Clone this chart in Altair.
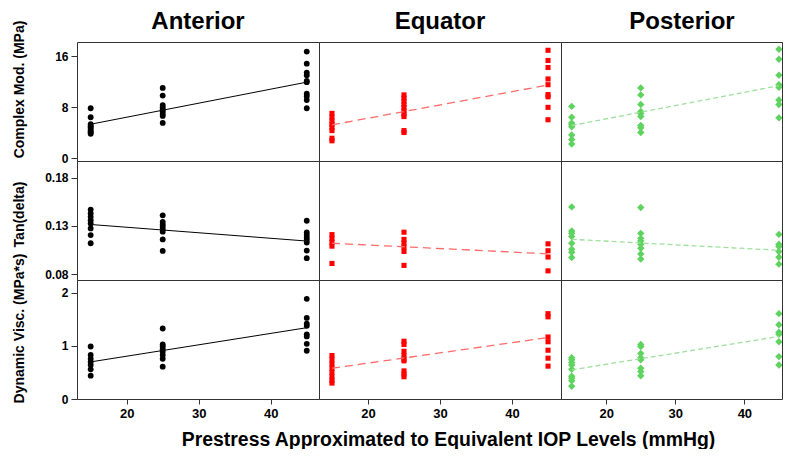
import altair as alt
import pandas as pd

PRESSURES = [15, 25, 45]
REGIONS = ["Anterior", "Equator", "Posterior"]
MEASURES = ["Complex Mod. (MPa)", "Tan(delta)", "Dynamic Visc. (MPa*s)"]
X_TITLE = "Prestress Approximated to Equivalent IOP Levels (mmHg)"
X_TICKS = [20, 30, 40]

# ---- Complex modulus (MPa), per region, keyed by prestress level ----
ANT_MOD = {15: [7.8, 6.4, 5.3, 5.0, 4.8, 4.5, 4.2, 4.0, 3.8],
           25: [11.0, 9.8, 8.3, 7.95, 7.6, 7.3, 6.9, 6.6, 5.5],
           45: [16.7, 14.8, 13.4, 13.0, 12.1, 11.9, 10.1, 9.7, 9.1, 7.8]}
EQU_MOD = {15: [7.0, 6.4, 5.8, 5.3, 4.8, 4.3, 3.1, 2.7],
           25: [9.9, 9.4, 8.9, 8.4, 7.9, 7.4, 6.9, 6.5, 4.3, 4.0],
           45: [16.9, 15.3, 14.2, 12.4, 11.5, 9.95, 9.6, 7.95, 6.0]}
POS_MOD = {15: [8.1, 6.4, 5.5, 5.2, 4.9, 3.6, 2.9, 2.2],
           25: [11.0, 9.9, 8.4, 7.3, 7.0, 6.5, 5.1, 4.75, 4.0],
           45: [17.05, 15.5, 13.0, 11.5, 11.1, 9.1, 8.4, 6.3]}

# ---- Tan(delta) ----
ANT_TAN = {15: [0.147, 0.143, 0.1395, 0.136, 0.1326, 0.1274, 0.1205, 0.112],
           25: [0.141, 0.1343, 0.1315, 0.1292, 0.1267, 0.124, 0.116, 0.104],
           45: [0.1354, 0.1233, 0.1205, 0.1178, 0.1154, 0.1127, 0.1044, 0.0965]}
EQU_TAN = {15: [0.121, 0.117, 0.113, 0.109, 0.091],
           25: [0.1235, 0.116, 0.112, 0.108, 0.1035, 0.089],
           45: [0.1114, 0.1042, 0.0977, 0.0833]}
POS_TAN = {15: [0.1498, 0.1247, 0.1223, 0.1189, 0.112, 0.1058, 0.1027, 0.0972],
           25: [0.1491, 0.1223, 0.1171, 0.1143, 0.1109, 0.1068, 0.1009, 0.0955],
           45: [0.1212, 0.1109, 0.1085, 0.1034, 0.0975, 0.0903]}

# ---- Dynamic viscosity (MPa*s) ----
ANT_VIS = {15: [0.99, 0.83, 0.76, 0.70, 0.64, 0.56, 0.44],
           25: [1.33, 1.03, 0.99, 0.94, 0.89, 0.83, 0.76, 0.61],
           45: [1.89, 1.53, 1.42, 1.38, 1.22, 1.18, 1.04, 0.91]}
EQU_VIS = {15: [0.82, 0.74, 0.66, 0.58, 0.50, 0.42, 0.35, 0.30],
           25: [1.09, 1.03, 0.90, 0.82, 0.75, 0.72, 0.53, 0.47, 0.42],
           45: [1.61, 1.55, 1.17, 1.08, 0.92, 0.77, 0.62]}
POS_VIS = {15: [0.78, 0.74, 0.69, 0.64, 0.56, 0.43, 0.39, 0.345, 0.24],
           25: [1.03, 0.99, 0.86, 0.78, 0.74, 0.58, 0.52, 0.44],
           45: [1.61, 1.40, 1.26, 1.22, 1.08, 0.80, 0.64]}

# ---- fitted trend lines: value at 15 and at 45 mmHg ----
FIT_MOD = {"Anterior": [5.3, 11.9], "Equator": [5.2, 11.45], "Posterior": [5.1, 11.35]}
FIT_TAN = {"Anterior": [0.1315, 0.1143], "Equator": [0.112, 0.101], "Posterior": [0.1161, 0.1047]}
FIT_VIS = {"Anterior": [0.70, 1.345], "Equator": [0.58, 1.16], "Posterior": [0.55, 1.18]}
FIT_X = [15, 45]

DATA = [[ANT_MOD, EQU_MOD, POS_MOD], [ANT_TAN, EQU_TAN, POS_TAN], [ANT_VIS, EQU_VIS, POS_VIS]]
FITS = [FIT_MOD, FIT_TAN, FIT_VIS]

# ---- styling ----
FONT = "Liberation Sans"
POINT_STYLE = {
    "Anterior": dict(shape="circle", size=34, color="#000000"),
    "Equator": dict(shape="square", size=26, color="#ff0000"),
    "Posterior": dict(shape="diamond", size=55, color="#5fd35f"),
}
LINE_STYLE = {
    "Anterior": dict(color="#000000", strokeWidth=1),
    "Equator": dict(color="#ff6a6a", strokeWidth=1.3, strokeDash=[8, 5]),
    "Posterior": dict(color="#9fe09f", strokeWidth=1.3, strokeDash=[5, 3]),
}
Y_DOMAINS = [[-0.47, 18.2], [0.0738, 0.1975], [0.0, 2.245]]
Y_TICKS = [[0, 8, 16], [0.08, 0.13, 0.18], [0, 1, 2]]
Y_FORMATS = ["d", ".2f", "d"]
Y_TITLE_Y = [47, 53, 48]
ROW_HEIGHTS = [119, 119, 119]
COL_WIDTHS = [242, 242, 221]
X_DOMAINS = [[13.1, 46.7], [13.2, 46.8], [13.45, 45.45]]

panels = []
for r, measure in enumerate(MEASURES):
    for c, region in enumerate(REGIONS):
        vals = DATA[r][c]
        rows = [{"p": p, "v": v} for p in PRESSURES for v in vals[p]]
        df = pd.DataFrame(rows)
        fit = FITS[r][region]
        fdf = pd.DataFrame({"p": FIT_X, "v": fit})

        if c == 0:
            yaxis = alt.Axis(values=Y_TICKS[r], format=Y_FORMATS[r], title=measure,
                             titleX=-51, titleY=Y_TITLE_Y[r], titleAngle=270,
                             titleAlign="center", titleBaseline="bottom",
                             titleFontSize=14, titleFontWeight="bold", titleColor="#000",
                             labelFontSize=12, labelFontWeight="bold", labelColor="#000",
                             labelPadding=3, tickSize=6, tickColor="#333",
                             domain=False, grid=False)
        else:
            yaxis = None
        if r == 2:
            if c == 1:
                xaxis = alt.Axis(values=X_TICKS, format="d", title=X_TITLE,
                                 titleX=129, titleY=46, titleAlign="center",
                                 titleBaseline="alphabetic", titleFontSize=19.4,
                                 titleFontWeight="bold", titleColor="#000",
                                 labelFontSize=13, labelFontWeight="bold", labelColor="#000",
                                 labelPadding=3, tickSize=5, tickColor="#333",
                                 domain=False, grid=False)
            else:
                xaxis = alt.Axis(values=X_TICKS, format="d", title=None,
                                 labelFontSize=13, labelFontWeight="bold", labelColor="#000",
                                 labelPadding=3, tickSize=5, tickColor="#333",
                                 domain=False, grid=False)
        else:
            xaxis = None

        x = alt.X("p:Q", scale=alt.Scale(domain=X_DOMAINS[c], nice=False, zero=False), axis=xaxis)
        y = alt.Y("v:Q", scale=alt.Scale(domain=Y_DOMAINS[r], nice=False, zero=False), axis=yaxis)

        ps = POINT_STYLE[region]
        pts = alt.Chart(df).mark_point(shape=ps["shape"], size=ps["size"], color=ps["color"],
                                       filled=True, opacity=1, clip=True).encode(x=x, y=y)
        ln = alt.Chart(fdf).mark_line(clip=True, **LINE_STYLE[region]).encode(x=x, y=y)
        layers = [pts, ln]
        if r == 0:
            tdf = pd.DataFrame({"t": [region]})
            txt = alt.Chart(tdf).mark_text(fontSize=24, fontWeight="bold", align="center",
                                           baseline="alphabetic", color="#000").encode(
                text="t:N", x=alt.value(121), y=alt.value(-13))
            layers.append(txt)
        panel = alt.layer(*layers).properties(width=COL_WIDTHS[c], height=ROW_HEIGHTS[r])
        panels.append(panel)

chart = alt.concat(*panels, columns=3, spacing=0, bounds="flush").properties(
    padding={"left": 3, "top": 1, "right": 0, "bottom": 0}
).configure(font=FONT).configure_view(stroke="#333333", strokeWidth=1)

chart.save("out.html", embed_options={"renderer": "svg", "actions": False})
